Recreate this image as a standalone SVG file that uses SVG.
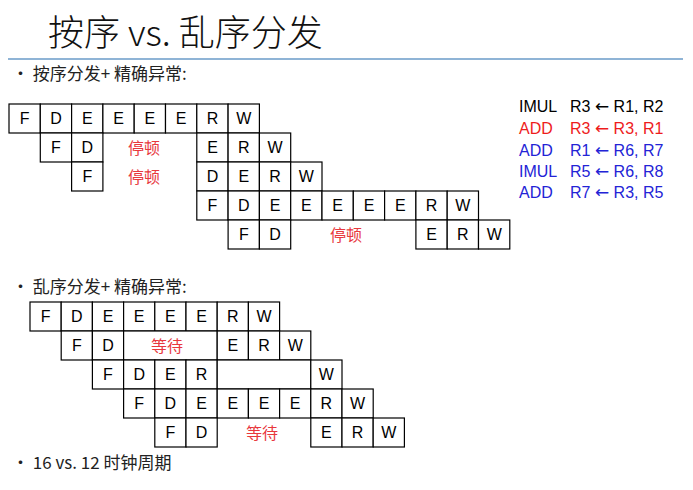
<svg xmlns="http://www.w3.org/2000/svg" width="693" height="490" viewBox="0 0 693 490">
<style>
.c{fill:#fff;stroke:#000;stroke-width:1.2}
.t{font-family:"Liberation Sans","Noto Sans CJK SC",sans-serif;font-size:16px;text-anchor:middle;fill:#000}
.s{font-family:"Noto Sans CJK SC",sans-serif;font-size:16px;text-anchor:middle;fill:#e8383d}
.b{font-family:"Noto Sans CJK SC",sans-serif;font-size:17px;fill:#222}
.i{font-family:"Liberation Sans",sans-serif;font-size:16px}
.a{font-family:"DejaVu Sans",sans-serif;font-size:17px}
</style>
<rect width="693" height="490" fill="#fff"/>
<text x="48" y="46" font-family="Noto Sans CJK SC,sans-serif" font-size="36" font-weight="300" fill="#111">按序 vs. 乱序分发</text>
<line x1="8" y1="59" x2="683" y2="59" stroke="#8fb4d6" stroke-width="2"/>
<text class="b" x="12" y="80">•  按序分发+ 精确异常:</text>
<text class="b" x="12" y="293">•  乱序分发+ 精确异常:</text>
<text class="b" x="12" y="469">•  16 vs. 12 时钟周期</text>
<g id="top">
<g class="c">
<rect x="9" y="104" width="31.3" height="29"/><rect x="40.3" y="104" width="31.3" height="29"/><rect x="71.6" y="104" width="31.3" height="29"/><rect x="102.9" y="104" width="31.3" height="29"/><rect x="134.2" y="104" width="31.3" height="29"/><rect x="165.5" y="104" width="31.3" height="29"/><rect x="196.8" y="104" width="31.3" height="29"/><rect x="228.1" y="104" width="31.3" height="29"/>
<rect x="40.3" y="133" width="31.3" height="29"/><rect x="71.6" y="133" width="31.3" height="29"/><rect x="196.8" y="133" width="31.3" height="29"/><rect x="228.1" y="133" width="31.3" height="29"/><rect x="259.4" y="133" width="31.3" height="29"/>
<rect x="71.6" y="162" width="31.3" height="29"/><rect x="196.8" y="162" width="31.3" height="29"/><rect x="228.1" y="162" width="31.3" height="29"/><rect x="259.4" y="162" width="31.3" height="29"/><rect x="290.7" y="162" width="31.3" height="29"/>
<rect x="196.8" y="191" width="31.3" height="29"/><rect x="228.1" y="191" width="31.3" height="29"/><rect x="259.4" y="191" width="31.3" height="29"/><rect x="290.7" y="191" width="31.3" height="29"/><rect x="322" y="191" width="31.3" height="29"/><rect x="353.3" y="191" width="31.3" height="29"/><rect x="384.6" y="191" width="31.3" height="29"/><rect x="415.9" y="191" width="31.3" height="29"/><rect x="447.2" y="191" width="31.3" height="29"/>
<rect x="228.1" y="220" width="31.3" height="29"/><rect x="259.4" y="220" width="31.3" height="29"/><rect x="415.9" y="220" width="31.3" height="29"/><rect x="447.2" y="220" width="31.3" height="29"/><rect x="478.5" y="220" width="31.3" height="29"/>
</g>
<g class="t">
<text x="24.7" y="124">F</text><text x="56" y="124">D</text><text x="87.3" y="124">E</text><text x="118.6" y="124">E</text><text x="149.9" y="124">E</text><text x="181.2" y="124">E</text><text x="212.5" y="124">R</text><text x="243.8" y="124">W</text>
<text x="56" y="153">F</text><text x="87.3" y="153">D</text><text x="212.5" y="153">E</text><text x="243.8" y="153">R</text><text x="275.1" y="153">W</text>
<text x="87.3" y="182">F</text><text x="212.5" y="182">D</text><text x="243.8" y="182">E</text><text x="275.1" y="182">R</text><text x="306.4" y="182">W</text>
<text x="212.5" y="211">F</text><text x="243.8" y="211">D</text><text x="275.1" y="211">E</text><text x="306.4" y="211">E</text><text x="337.7" y="211">E</text><text x="369" y="211">E</text><text x="400.3" y="211">E</text><text x="431.6" y="211">R</text><text x="462.9" y="211">W</text>
<text x="243.8" y="240">F</text><text x="275.1" y="240">D</text><text x="431.6" y="240">E</text><text x="462.9" y="240">R</text><text x="494.2" y="240">W</text>
</g>
<text class="s" x="144" y="154">停顿</text><text class="s" x="144" y="183">停顿</text><text class="s" x="346" y="241">停顿</text>
</g>
<g id="instr" class="i">
<text x="519" y="112" fill="#000">IMUL</text><text x="570" y="112" fill="#000">R3 <tspan class="a">←</tspan> R1, R2</text>
<text x="519" y="134" fill="#ee1c1c">ADD</text><text x="570" y="134" fill="#ee1c1c">R3 <tspan class="a">←</tspan> R3, R1</text>
<text x="519" y="156" fill="#2323d6">ADD</text><text x="570" y="156" fill="#2323d6">R1 <tspan class="a">←</tspan> R6, R7</text>
<text x="519" y="177" fill="#2323d6">IMUL</text><text x="570" y="177" fill="#2323d6">R5 <tspan class="a">←</tspan> R6, R8</text>
<text x="519" y="198" fill="#2323d6">ADD</text><text x="570" y="198" fill="#2323d6">R7 <tspan class="a">←</tspan> R3, R5</text>
</g>
<g id="bottom">
<g class="c">
<rect x="30" y="302" width="31.2" height="29"/><rect x="61.2" y="302" width="31.2" height="29"/><rect x="92.4" y="302" width="31.2" height="29"/><rect x="123.6" y="302" width="31.2" height="29"/><rect x="154.8" y="302" width="31.2" height="29"/><rect x="186" y="302" width="31.2" height="29"/><rect x="217.2" y="302" width="31.2" height="29"/><rect x="248.4" y="302" width="31.2" height="29"/>
<rect x="61.2" y="331" width="31.2" height="29"/><rect x="92.4" y="331" width="31.2" height="29"/><rect x="123.6" y="331" width="93.6" height="29"/><rect x="217.2" y="331" width="31.2" height="29"/><rect x="248.4" y="331" width="31.2" height="29"/><rect x="279.6" y="331" width="31.2" height="29"/>
<rect x="92.4" y="360" width="31.2" height="29"/><rect x="123.6" y="360" width="31.2" height="29"/><rect x="154.8" y="360" width="31.2" height="29"/><rect x="186" y="360" width="31.2" height="29"/><rect x="217.2" y="360" width="93.6" height="29"/><rect x="310.8" y="360" width="31.2" height="29"/>
<rect x="123.6" y="389" width="31.2" height="29"/><rect x="154.8" y="389" width="31.2" height="29"/><rect x="186" y="389" width="31.2" height="29"/><rect x="217.2" y="389" width="31.2" height="29"/><rect x="248.4" y="389" width="31.2" height="29"/><rect x="279.6" y="389" width="31.2" height="29"/><rect x="310.8" y="389" width="31.2" height="29"/><rect x="342" y="389" width="31.2" height="29"/>
<rect x="154.8" y="418" width="31.2" height="29"/><rect x="186" y="418" width="31.2" height="29"/><rect x="310.8" y="418" width="31.2" height="29"/><rect x="342" y="418" width="31.2" height="29"/><rect x="373.2" y="418" width="31.2" height="29"/>
</g>
<g class="t">
<text x="45.6" y="322">F</text><text x="76.8" y="322">D</text><text x="108" y="322">E</text><text x="139.2" y="322">E</text><text x="170.4" y="322">E</text><text x="201.6" y="322">E</text><text x="232.8" y="322">R</text><text x="264" y="322">W</text>
<text x="76.8" y="351">F</text><text x="108" y="351">D</text><text x="232.8" y="351">E</text><text x="264" y="351">R</text><text x="295.2" y="351">W</text>
<text x="108" y="380">F</text><text x="139.2" y="380">D</text><text x="170.4" y="380">E</text><text x="201.6" y="380">R</text><text x="326.4" y="380">W</text>
<text x="139.2" y="409">F</text><text x="170.4" y="409">D</text><text x="201.6" y="409">E</text><text x="232.8" y="409">E</text><text x="264" y="409">E</text><text x="295.2" y="409">E</text><text x="326.4" y="409">R</text><text x="357.6" y="409">W</text>
<text x="170.4" y="438">F</text><text x="201.6" y="438">D</text><text x="326.4" y="438">E</text><text x="357.6" y="438">R</text><text x="388.8" y="438">W</text>
</g>
<text class="s" x="167" y="352">等待</text><text class="s" x="262" y="439">等待</text>
</g>
</svg>
